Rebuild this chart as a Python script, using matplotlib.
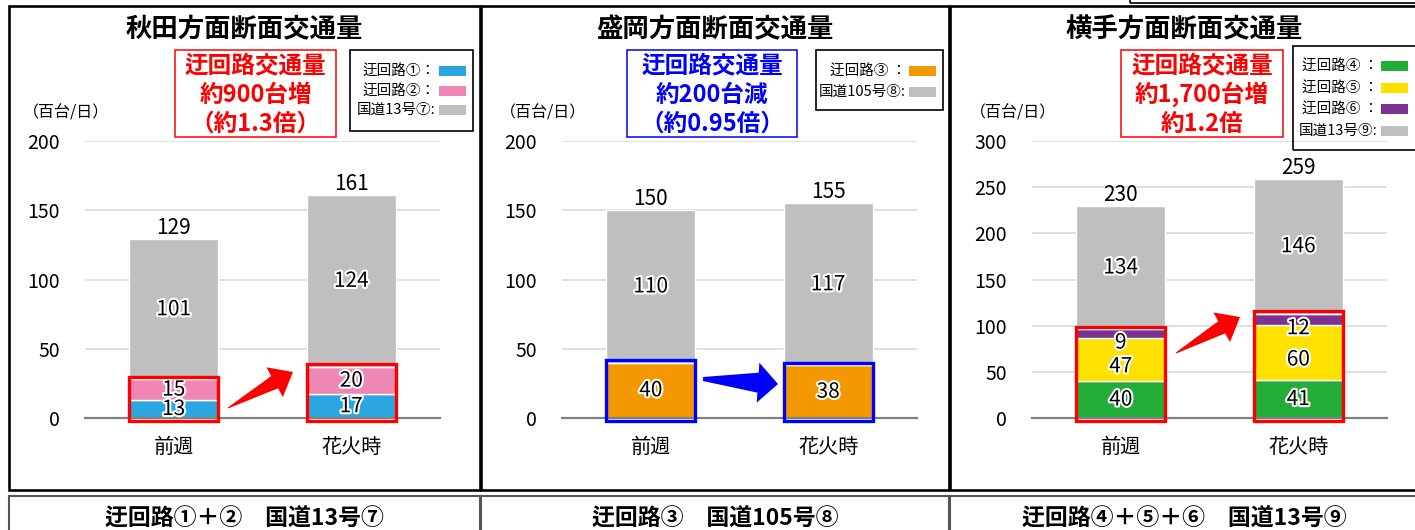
"""Three stacked-bar panels: cross-section traffic towards Akita, Morioka and Yokote,
the week before versus the fireworks day, with the detour routes boxed in."""

import matplotlib.patheffects as pe
import matplotlib.pyplot as plt
import numpy as np
from matplotlib.patches import Polygon, Rectangle

plt.rcParams["font.family"] = ["Noto Sans CJK JP", "DejaVu Sans"]

W, H = 1415, 530

CATEGORIES = ["前週", "花火時"]

# 秋田方面 (hundreds of vehicles / day)
AKITA_DETOUR_1 = [13, 17]
AKITA_DETOUR_2 = [15, 20]
AKITA_ROUTE_13 = [101, 124]

# 盛岡方面
MORIOKA_DETOUR_3 = [40, 38]
MORIOKA_ROUTE_105 = [110, 117]

# 横手方面
YOKOTE_DETOUR_4 = [40, 41]
YOKOTE_DETOUR_5 = [47, 60]
YOKOTE_DETOUR_6 = [9, 12]
YOKOTE_ROUTE_13 = [134, 146]

BLUE = "#2CA6E0"
PINK = "#EE87B3"
GRAY = "#BFBFBF"
ORANGE = "#F39800"
GREEN = "#22AC38"
YELLOW = "#FFE100"
PURPLE = "#7D3191"

PANELS = [
    dict(
        title="秋田方面断面交通量",
        ymax=200, step=50,
        series=[(AKITA_DETOUR_1, BLUE, "迂回路①：", 0),
                (AKITA_DETOUR_2, PINK, "迂回路②：", 0),
                (AKITA_ROUTE_13, GRAY, "国道13号⑦:", 0)],
        n_detour=2, accent="#FF0000",
        summary=["迂回路交通量", "約900台増", "（約1.3倍）"],
        caption="迂回路①＋②　国道13号⑦",
        frame=(9, 480), ax_left=85,
        note_box=(175, 50, 336, 137), legend_box=(350, 50, 473, 131), legend_rows=(71, 19.5),
        arrow=((228, 408), (293, 372), 21, 17, 7, 0.5),
    ),
    dict(
        title="盛岡方面断面交通量",
        ymax=200, step=50,
        series=[(MORIOKA_DETOUR_3, ORANGE, "迂回路③ ：", 0),
                (MORIOKA_ROUTE_105, GRAY, "国道105号⑧:", 0)],
        n_detour=1, accent="#0000FF",
        summary=["迂回路交通量", "約200台減", "（約0.95倍）"],
        caption="迂回路③　国道105号⑧",
        frame=(481, 949), ax_left=562,
        note_box=(627, 50, 797, 137), legend_box=(816, 50, 943, 110), legend_rows=(71, 21),
        arrow=((703, 379), (778, 384), 20, 20, 10, 2),
    ),
    dict(
        title="横手方面断面交通量",
        ymax=300, step=50,
        series=[(YOKOTE_DETOUR_4, GREEN, "迂回路④ ：", 0),
                (YOKOTE_DETOUR_5, YELLOW, "迂回路⑤ ：", 7),
                (YOKOTE_DETOUR_6, PURPLE, "迂回路⑥ ：", 9),
                (YOKOTE_ROUTE_13, GRAY, "国道13号⑨:", 0)],
        n_detour=3, accent="#FF0000",
        summary=["迂回路交通量", "約1,700台増", "約1.2倍"],
        caption="迂回路④＋⑤＋⑥　国道13号⑨",
        frame=(950, 1418), ax_left=1032,
        note_box=(1121, 50, 1283, 137), legend_box=(1293, 46, 1418, 150), legend_rows=(66, 21.5),
        arrow=((1176, 353), (1240, 317), 21, 17, 7, 0.5),
    ),
]


def px(x, y):
    """Pixel position (top-left origin) to figure fraction."""
    return x / W, 1 - y / H


def fig_box(fig, x0, y0, x1, y1, **kw):
    fig.add_artist(Rectangle(px(x0, y1), (x1 - x0) / W, (y1 - y0) / H,
                             transform=fig.transFigure, **kw))


def block_arrow(fig, tail, tip, head_len, head_half, body_half, tail_half, color):
    tail = np.asarray(tail, float)
    tip = np.asarray(tip, float)
    d = (tip - tail) / np.hypot(*(tip - tail))
    n = np.array([-d[1], d[0]])
    base = tip - d * head_len
    pts = [tail + n * tail_half, base + n * body_half, base + n * head_half, tip,
           base - n * head_half, base - n * body_half, tail - n * tail_half]
    fig.add_artist(Polygon([px(*p) for p in pts], closed=True, transform=fig.transFigure,
                           facecolor=color, edgecolor="none"))


def draw_panel(fig, cfg):
    x0, x1 = cfg["frame"]
    fig_box(fig, x0, 6, x1, 490, fill=False, edgecolor="black", linewidth=1.9, zorder=5)
    fig_box(fig, x0, 496, x1, 545, fill=False, edgecolor="#555555", linewidth=1.5, zorder=5)
    fig.text(*px((x0 + x1) / 2, 519), cfg["caption"], ha="center", va="center",
             fontsize=16.5, fontweight="bold")
    fig.text(*px((x0 + x1) / 2, 30), cfg["title"], ha="center", va="center",
             fontsize=19, fontweight="bold")
    fig.text(*px(cfg["ax_left"] - 62, 113), "（百台/日）", ha="left", va="center",
             fontsize=11.5)

    # summary note
    bx0, by0, bx1, by1 = cfg["note_box"]
    fig_box(fig, bx0, by0, bx1, by1, fill=False, edgecolor=cfg["accent"], linewidth=1.1)
    for i, line in enumerate(cfg["summary"]):
        fig.text(*px((bx0 + bx1) / 2, by0 + 15 + 29.5 * i), line, ha="center", va="center",
                 fontsize=17, fontweight="bold", color=cfg["accent"])

    # legend
    lx0, ly0, lx1, ly1 = cfg["legend_box"]
    fig_box(fig, lx0, ly0, lx1, ly1, fill=False, edgecolor="black", linewidth=1.2)
    row0, gap = cfg["legend_rows"]
    sw_x = min(lx1, W) - 34
    for i, (_, color, label, _) in enumerate(cfg["series"]):
        y = row0 + gap * i
        fig.text(*px(sw_x - 3, y), label, ha="right", va="center", fontsize=10.5)
        fig_box(fig, sw_x, y - 5, sw_x + 27, y + 5, facecolor=color, edgecolor="none")

    # chart
    ax = fig.add_axes([cfg["ax_left"] / W, (H - 418) / H, 355 / W, 277 / H])
    ymax = cfg["ymax"]
    unit_px = 277 / ymax
    x = np.arange(len(CATEGORIES))
    bottom = np.zeros(len(CATEGORIES))
    for values, color, _, nudge in cfg["series"]:
        values = np.asarray(values, float)
        ax.bar(x, values, 0.5, bottom=bottom, color=color, edgecolor="white",
               linewidth=1, zorder=2)
        for xi, b, v in zip(x, bottom, values):
            ax.annotate(f"{v:.0f}", (xi, b + v / 2), xytext=(0, -nudge * 0.72),
                        textcoords="offset points", ha="center", va="center", fontsize=15,
                        zorder=4,
                        path_effects=[pe.withStroke(linewidth=3, foreground="white")])
        bottom = bottom + values

    for xi, total in zip(x, bottom):
        ax.annotate(f"{total:.0f}", (xi, total), xytext=(0, 0), textcoords="offset points",
                    ha="center", va="bottom", fontsize=15)

    # box round the detour part of each bar
    detour = np.sum([s[0] for s in cfg["series"][: cfg["n_detour"]]], axis=0)
    pad = 2.5 / unit_px
    for xi, top in zip(x, detour):
        ax.add_patch(Rectangle((xi - 0.25, -pad), 0.5, top + 2 * pad, fill=False,
                               edgecolor=cfg["accent"], linewidth=2.4, zorder=5,
                               clip_on=False))

    ax.set_xlim(-0.5, 1.5)
    ax.set_ylim(0, ymax)
    ax.set_xticks(x, CATEGORIES)
    ax.set_yticks(np.arange(0, ymax + 1, cfg["step"]))
    ax.yaxis.grid(True, color="#D9D9D9", linewidth=1.2)
    ax.set_axisbelow(True)
    for side in ("top", "right", "left"):
        ax.spines[side].set_visible(False)
    ax.spines["bottom"].set_color("#808080")
    ax.spines["bottom"].set_linewidth(1.6)
    ax.tick_params(axis="y", length=0, pad=18, labelsize=14)
    ax.tick_params(axis="x", length=0, pad=14, labelsize=14.5)

    tail, tip, head_len, head_half, body_half, tail_half = cfg["arrow"]
    block_arrow(fig, tail, tip, head_len, head_half, body_half, tail_half, cfg["accent"])


fig = plt.figure(figsize=(W / 100, H / 100), dpi=100)
for panel in PANELS:
    draw_panel(fig, panel)
# edge of the box sitting above the third panel
fig_box(fig, 1130, -20, 1430, 3, fill=False, edgecolor="black", linewidth=1.2)

fig.savefig("out.png", dpi=100)
